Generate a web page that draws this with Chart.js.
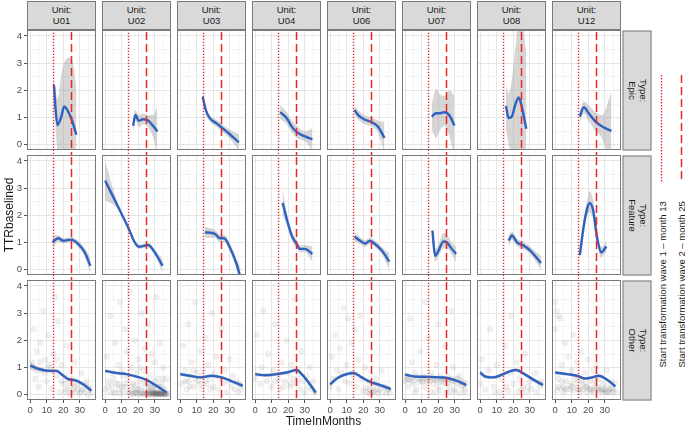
<!DOCTYPE html>
<html>
<head>
<meta charset="utf-8">
<script src="https://cdn.jsdelivr.net/npm/chart.js@4.4.0/dist/chart.umd.min.js"></script>
<style>
  body { margin: 0; background: #fff; }
  #wrap { position: relative; width: 685px; height: 429px; overflow: hidden; font-family: 'Liberation Sans', Arial, sans-serif; }
  #wrap canvas { position: absolute; }
  .strip { position: absolute; box-sizing: border-box; background: #d9d9d9; border: 1px solid #7a7a7a; color: #1a1a1a;
           font-size: 9.5px; line-height: 10.7px; text-align: center; display: flex; align-items: center; justify-content: center; }
  .rot { position: absolute; white-space: nowrap; }
</style>
</head>
<body>
<div id="wrap"></div>
<script>
// facets
const units = ['U01', 'U02', 'U03', 'U04', 'U06', 'U07', 'U08', 'U12'];
const types = ['Epic', 'Feature', 'Other'];
const xTicks = [0, 10, 20, 30];
const xMinor = [5, 15, 25, 35];
const yTicks = [0, 1, 2, 3, 4];
const yMinor = [0.5, 1.5, 2.5, 3.5];
const wave1 = 14.1;   // start transformation wave 1
const wave2 = 25;     // start transformation wave 2

// loess fits, Type: Epic (one list per unit)
const epicX = [
  [14.4, 15.2, 16.5, 18.9, 20.5, 23.5, 25.5, 27.9],
  [16.9, 18.3, 20.3, 22.9, 25.9, 28.9, 31.6],
  [13.6, 15.5, 17.9, 22, 25, 30, 35.5],
  [15.1, 19.1, 22.1, 25.1, 30.1, 34.6],
  [14.7, 17.1, 21.1, 25.2, 29.2, 32.8],
  [16.1, 18.7, 21.1, 23.7, 26.8, 29.8],
  [15.6, 17.2, 19.2, 21.2, 23.3, 24.9, 27.9],
  [14.9, 17.3, 20.3, 24.3, 28.4, 34]
];
const epicY = [
  [2.2, 1.45, 0.73, 1.05, 1.41, 1.16, 0.86, 0.37],
  [0.70, 1.10, 0.88, 0.94, 0.89, 0.70, 0.49],
  [1.77, 1.28, 0.98, 0.79, 0.64, 0.39, 0.09],
  [1.2, 0.98, 0.67, 0.47, 0.31, 0.2],
  [1.28, 1.08, 0.92, 0.83, 0.65, 0.25],
  [1.04, 1.16, 1.16, 1.2, 1.08, 0.71],
  [1.43, 0.98, 1.04, 1.47, 1.74, 1.47, 0.59],
  [1.04, 1.38, 1.16, 0.86, 0.67, 0.51]
];
const epicLo = [
  [1.95, 0.9, -0.2, -0.4, -0.3, -0.6, -0.9, -1.3],
  [0.4, 0.9, 0.65, 0.75, 0.65, 0.3, -0.3],
  [1.62, 1.14, 0.85, 0.66, 0.5, 0.23, -0.2],
  [0.95, 0.76, 0.45, 0.25, 0.12, -0.2],
  [1.14, 0.91, 0.76, 0.66, 0.42, -0.35],
  [0.55, 0.25, 0.55, 0.7, 0.3, -0.4],
  [0.6, 0.0, -0.2, -0.4, -1.2, -1.6, -2.2],
  [0.82, 1.15, 0.88, 0.52, 0.22, -0.9]
];
const epicHi = [
  [2.4, 2.1, 1.7, 2.6, 3.0, 3.2, 3.1, 2.1],
  [1.0, 1.28, 1.1, 1.15, 1.1, 1.1, 1.4],
  [1.9, 1.42, 1.1, 0.92, 0.78, 0.55, 0.4],
  [1.45, 1.2, 0.9, 0.7, 0.5, 0.6],
  [1.42, 1.25, 1.08, 1.0, 0.88, 0.85],
  [1.5, 2.05, 1.85, 1.8, 2.0, 1.8],
  [2.2, 1.9, 2.4, 3.5, 4.6, 4.6, 3.4],
  [1.25, 1.6, 1.45, 1.2, 1.1, 1.95]
];

// Type: Feature
const featX = [
  [13.5, 16.9, 19.9, 24.9, 29, 33, 36.4],
  [0, 7, 13.9, 17.9, 20.5, 24, 26, 30, 34.7],
  [15, 21, 24, 26.5, 30, 33.7, 36.5],
  [16.6, 19.1, 22.1, 25.1, 27, 30.1, 34.6],
  [14.7, 18.1, 21.1, 24.1, 27.1, 31.2, 35.8],
  [16.5, 18.1, 20.2, 23.2, 25.2, 28.2, 30.8],
  [17.2, 19.2, 22.3, 26.3, 30.3, 36.8],
  [14.9, 17.3, 19.3, 20.8, 23, 25.3, 28, 29.9, 31]
];
const featY = [
  [1.01, 1.16, 1.07, 1.11, 0.95, 0.64, 0.15],
  [3.28, 2.42, 1.56, 1.01, 0.85, 0.89, 0.91, 0.64, 0.15],
  [1.38, 1.32, 1.16, 1.16, 0.83, 0.28, -0.28],
  [2.46, 1.87, 1.26, 0.95, 0.77, 0.77, 0.58],
  [1.22, 1.07, 0.97, 1.07, 0.95, 0.71, 0.3],
  [1.44, 0.52, 0.71, 1.04, 1.01, 0.77, 0.58],
  [1.07, 1.26, 1.01, 0.89, 0.71, 0.25],
  [0.54, 1.62, 2.24, 2.46, 2.18, 1.19, 0.64, 0.77, 0.86]
];
const featLo = [
  [0.79, 1.04, 0.97, 1.01, 0.83, 0.49, -0.15],
  [2.55, 2.28, 1.48, 0.92, 0.77, 0.81, 0.83, 0.54, -0.1],
  [1.18, 1.18, 1.02, 1.02, 0.68, 0.1, -0.63],
  [2.0, 1.65, 1.1, 0.8, 0.65, 0.65, 0.3],
  [1.04, 0.95, 0.85, 0.95, 0.83, 0.58, 0.0],
  [1.2, 0.3, 0.5, 0.8, 0.8, 0.55, 0.3],
  [0.85, 1.1, 0.87, 0.75, 0.57, 0.0],
  [0.35, 1.4, 1.95, 2.1, 1.85, 0.95, 0.45, 0.6, 0.65]
];
const featHi = [
  [1.23, 1.28, 1.17, 1.21, 1.07, 0.79, 0.45],
  [4.0, 2.56, 1.64, 1.1, 0.93, 0.97, 0.99, 0.74, 0.4],
  [1.58, 1.46, 1.3, 1.3, 0.98, 0.46, 0.07],
  [2.95, 2.1, 1.42, 1.1, 0.9, 0.9, 0.86],
  [1.4, 1.19, 1.09, 1.19, 1.07, 0.84, 0.6],
  [1.65, 0.75, 0.95, 1.35, 1.3, 1.0, 0.85],
  [1.29, 1.42, 1.15, 1.03, 0.85, 0.5],
  [0.75, 1.85, 2.55, 2.9, 2.55, 1.45, 0.85, 0.95, 1.05]
];

// Type: Other
const otherX = [
  [0, 5.8, 11.8, 15.9, 18.9, 22.9, 27, 32, 37],
  [0, 6.9, 12.9, 18.9, 25, 31, 37.1],
  [0, 5.9, 12, 19, 25, 32, 37.8],
  [0, 6, 13, 19.1, 25.1, 28.1, 33.1, 36.6],
  [0, 5, 11.1, 14.1, 19.1, 24.1, 30.2, 36.6],
  [0, 6, 14.2, 21.1, 26.2, 31.3, 36.9],
  [0, 3.2, 7.8, 13.2, 17.8, 21.8, 26.3, 32.4, 38],
  [0, 7.2, 13.3, 18.3, 22.3, 26.4, 31.4, 36.4]
];
const otherY = [
  [1.07, 0.94, 0.88, 0.88, 0.76, 0.58, 0.54, 0.39, 0.15],
  [0.88, 0.8, 0.76, 0.67, 0.55, 0.33, 0.08],
  [0.76, 0.7, 0.64, 0.7, 0.64, 0.48, 0.33],
  [0.76, 0.72, 0.76, 0.82, 0.91, 0.76, 0.39, 0.08],
  [0.39, 0.64, 0.78, 0.8, 0.64, 0.48, 0.36, 0.21],
  [0.74, 0.67, 0.66, 0.64, 0.61, 0.51, 0.36],
  [0.82, 0.67, 0.64, 0.74, 0.86, 0.91, 0.78, 0.55, 0.36],
  [0.82, 0.76, 0.7, 0.6, 0.64, 0.7, 0.55, 0.31]
];
const otherLo = [
  [0.92, 0.87, 0.82, 0.82, 0.7, 0.52, 0.48, 0.32, 0.03],
  [0.82, 0.76, 0.72, 0.63, 0.51, 0.29, 0.02],
  [0.69, 0.65, 0.59, 0.65, 0.59, 0.42, 0.24],
  [0.68, 0.66, 0.7, 0.76, 0.84, 0.69, 0.31, -0.04],
  [0.29, 0.57, 0.71, 0.73, 0.57, 0.41, 0.29, 0.11],
  [0.69, 0.63, 0.62, 0.6, 0.57, 0.47, 0.3],
  [0.72, 0.6, 0.58, 0.68, 0.8, 0.85, 0.72, 0.48, 0.26],
  [0.76, 0.71, 0.65, 0.55, 0.59, 0.65, 0.5, 0.24]
];
const otherHi = [
  [1.22, 1.01, 0.94, 0.94, 0.82, 0.64, 0.6, 0.46, 0.27],
  [0.94, 0.84, 0.8, 0.71, 0.59, 0.37, 0.14],
  [0.83, 0.75, 0.69, 0.75, 0.69, 0.54, 0.42],
  [0.84, 0.78, 0.82, 0.88, 0.98, 0.83, 0.47, 0.2],
  [0.49, 0.71, 0.85, 0.87, 0.71, 0.55, 0.43, 0.31],
  [0.79, 0.71, 0.7, 0.68, 0.65, 0.55, 0.42],
  [0.92, 0.74, 0.7, 0.8, 0.92, 0.97, 0.84, 0.62, 0.46],
  [0.88, 0.81, 0.75, 0.65, 0.69, 0.75, 0.6, 0.38]
];

// raw observations (Other row), [month, TTR]
const otherPts = [
  [[1,1.2],[2,2.4],[3,0.6],[4,1.6],[5,0.3],[6,1.9],[7,0.9],[8,3.1],[9,1.3],[10,0.5],[11,2.2],[12,1.0],[13,0.2],[14,1.5],[15,3.6],[16,0.7],[17,2.7],[18,0.1],[19,1.1],[20,0.4],[21,0.1],[22,1.8],[23,0.3],[24,0.05],[25,0.6],[26,0.2],[27,1.2],[28,0.1],[29,0.4],[30,0.05],[31,0.8],[32,0.2],[33,0.1],[34,0.5],[35,0.0],[36,0.3],[37,0.1],[22,0.2],[27,0.3],[31,0.15],[19,0.5],[25,0.1],
   [2,1.0],[4,0.9],[6,1.2],[9,0.8],[11,1.1],[13,0.9],[16,1.3],[21,0.7],[23,0.5],[26,0.4],[29,0.2],[33,0.35]],
  [[14,0.1],[15,0.05],[16,0.15],[17,0.02],[18,0.1],[19,0.05],[20,0.2],[21,0.03],[22,0.1],[23,0.05],[24,0.12],[25,0.02],[26,0.08],[27,0.04],[28,0.1],[29,0.02],[30,0.06],[31,0.03],[32,0.08],[33,0.02],[34,0.05],[35,0.03],[36,0.06],[37,0.02],[38,0.04],
   [24,0.03],[26,0.15],[28,0.05],[29,0.12],[30,0.02],[31,0.1],[32,0.04],[33,0.07],[34,0.02],[35,0.1],[36,0.03],[37,0.08],[27,0.02],[30,0.1],[32,0.01],[34,0.12],[36,0.01],[33,0.04],[31,0.05],[29,0.07],
   [25.5,0.05],[26.5,0.02],[27.5,0.08],[28.5,0.03],[29.5,0.05],[30.5,0.02],[31.5,0.07],[32.5,0.03],[33.5,0.05],[34.5,0.02],[35.5,0.06],[36.5,0.03],[20.5,0.06],[22.5,0.04],[18.5,0.08],[16.5,0.05],
   [28,0.25],[32,0.3],[35,0.22],[30,0.35],[26,0.3],[22,0.28],[18,0.35],[12,0.3],[8,0.4],[4,0.35],
   [0,0.2],[1,1.4],[2,0.5],[3,2.9],[4,0.8],[5,0.1],[6,1.9],[7,0.4],[8,1.1],[9,3.4],[10,0.3],[11,0.7],[12,2.4],[13,1.6],[14,0.6],[15,3.8],[16,1.0],[17,0.4],[18,2.0],[19,0.8],[20,1.3],[21,0.5],[22,3.0],[23,0.9],[24,1.7],[25,0.4],[26,2.6],[27,0.7],[28,1.5],[29,0.3],[30,1.2],[31,3.6],[32,0.6],[33,1.9],[34,0.4],[35,1.0],[36,0.2],[37,0.6],
   [2,0.3],[5,0.6],[8,0.2],[10,0.9],[12,0.4],[16,0.3],[19,0.2],[21,1.0],[24,0.5],[27,0.3],[30,0.5],[33,0.3],[35,0.6],[6,0.05],[11,0.1],[3,0.1],[9,0.05]],
  [[1,0.4],[2,1.8],[3,0.9],[4,0.2],[5,2.6],[6,0.7],[7,1.2],[8,0.3],[9,3.4],[10,0.8],[11,0.5],[12,1.6],[13,0.2],[14,0.9],[15,2.1],[16,0.4],[17,1.1],[18,0.6],[19,3.0],[20,0.3],[21,0.8],[22,1.4],[23,0.2],[24,0.6],[25,2.4],[26,0.4],[27,0.9],[28,0.1],[29,0.5],[30,1.3],[31,0.3],[32,0.7],[33,0.2],[34,0.5],[35,0.1],[36,0.4],[37,0.2],[3,0.5],[6,0.3],[9,0.6],[12,0.4],[15,0.5],[18,0.2],[8,0.9],[13,0.7],[5,0.5]],
  [[0,0.6],[1,2.2],[3,0.4],[4,1.0],[5,3.1],[7,0.5],[8,1.5],[10,0.3],[11,0.9],[12,2.6],[14,0.6],[15,0.2],[16,1.2],[18,0.5],[19,2.0],[20,0.8],[21,0.3],[22,1.1],[23,0.6],[24,3.5],[25,0.4],[26,0.9],[27,0.2],[28,1.6],[29,0.5],[30,0.1],[31,0.7],[32,0.3],[33,1.0],[34,0.2],[35,0.5],[36,0.1],[12,0.5],[17,0.3],[22,0.4],[26,0.6],[9,0.7]],
  [[0,0.3],[1,1.4],[2,0.6],[3,2.2],[4,0.9],[5,0.2],[6,1.7],[7,0.8],[8,3.2],[9,0.5],[10,1.1],[11,2.8],[12,0.4],[13,1.9],[14,0.7],[15,2.4],[16,0.3],[17,1.3],[18,2.9],[19,0.6],[20,0.15],[21,1.0],[22,0.1],[23,0.5],[24,0.2],[25,0.08],[26,0.3],[27,0.1],[28,0.6],[29,0.05],[30,0.2],[31,0.9],[32,0.1],[33,0.3],[34,0.05],[35,0.2],[36,0.1],[22,0.25],[24,0.05],[26,0.12],[28,0.2]],
  [[0,0.5],[1,0.7],[2,0.3],[3,0.6],[4,1.2],[5,0.4],[6,0.8],[7,0.2],[8,0.6],[9,1.6],[10,0.5],[11,0.7],[12,0.3],[13,0.6],[14,2.1],[15,0.5],[16,0.8],[17,0.4],[18,0.6],[19,1.1],[20,0.3],[21,0.7],[22,0.5],[23,0.6],[24,1.8],[25,0.4],[26,0.7],[27,0.3],[28,0.6],[29,1.0],[30,0.2],[31,0.6],[32,0.4],[33,0.7],[34,0.3],[35,0.5],[36,0.2],[37,0.4],
   [2,0.55],[5,0.65],[8,0.45],[11,0.5],[14,0.6],[17,0.55],[20,0.6],[23,0.45],[26,0.55],[29,0.5],[32,0.6],[35,0.35],[3,2.8],[12,3.4],[20,2.6],[28,3.1],[6,0.1],[15,0.1],[25,0.1],[33,0.05],
   [1,0.6],[4,0.5],[7,0.65],[10,0.6],[13,0.5],[16,0.65],[19,0.5],[22,0.6],[25,0.55],[28,0.5],[31,0.45],[34,0.5],[18,0.1],[21,0.15],[27,0.1],[30,0.12],[36,0.08]],
  [[0,0.4],[1,1.3],[3,0.2],[5,0.9],[6,2.4],[8,0.3],[10,1.1],[12,0.1],[13,0.6],[15,1.8],[16,0.3],[18,0.8],[19,2.9],[20,0.4],[22,1.2],[23,0.1],[24,0.6],[26,0.3],[27,1.5],[28,0.1],[30,0.5],[31,0.2],[33,0.8],[34,0.1],[36,0.3],[37,0.5],[9,0.1],[17,0.15],[25,0.2],[29,0.3]],
  [[0,2.4],[1,3.1],[2,0.6],[3,2.8],[4,1.1],[5,0.3],[6,1.9],[7,0.5],[8,1.4],[9,0.2],[10,0.9],[11,2.2],[12,0.4],[13,1.2],[14,0.6],[15,0.2],[16,1.6],[17,0.4],[18,0.8],[19,0.1],[20,1.3],[21,0.5],[22,0.2],[23,0.9],[24,0.3],[25,1.1],[26,0.2],[27,0.6],[28,0.1],[29,0.4],[30,0.2],[31,0.9],[32,0.3],[33,0.1],[34,0.5],[35,0.2],[36,0.4],[37,0.1],
   [2,0.3],[6,0.2],[10,0.3],[14,0.2],[18,0.3],[22,0.15],[26,0.3],[30,0.1],[34,0.25],[20,0.25],[28,0.2],[32,0.1],[4,0.5],[12,0.6],[16,0.5],[24,0.5],
   [1,0.15],[3,0.25],[5,0.1],[7,0.2],[9,0.35],[11,0.15],[13,0.25],[15,0.1],[17,0.2],[19,0.3],[21,0.2],[23,0.1],[25,0.25],[27,0.15],[29,0.2],[31,0.1],[33,0.2],[35,0.1],[0,3.4],[2,2.9]]
];

const rowData = [
  [epicX, epicY, epicLo, epicHi],
  [featX, featY, featLo, featHi],
  [otherX, otherY, otherLo, otherHi]
];

// layout
const PW = 69, PH = 120;
const colLeft = c => 27 + 75 * c;
const rowTop = [30, 155, 280];
const FONT = "'Liberation Sans', Arial, sans-serif";
const RED = 'rgb(232,40,40)';
const BLUE = '#2f62c0';
const GRID = '#e6e6e6';
const GRID_MINOR = '#f3f3f3';

Chart.defaults.font.family = FONT;

const wrap = document.getElementById('wrap');

const panelBorder = {
  id: 'panelBorder',
  afterDraw(chart) {
    const { ctx, chartArea: a } = chart;
    ctx.save();
    ctx.strokeStyle = '#7a7a7a';
    ctx.lineWidth = 1;
    ctx.strokeRect(a.left + 0.5, a.top + 0.5, a.right - a.left - 1, a.bottom - a.top - 1);
    ctx.restore();
  }
};

const toXY = (xs, ys) => xs.map((x, i) => ({ x: x, y: ys[i] }));
const vline = x => [{ x: x, y: -1 }, { x: x, y: 5 }];
const noPad = s => { s.paddingLeft = 0; s.paddingRight = 0; s.paddingTop = 0; s.paddingBottom = 0; };

function makePanel(r, c) {
  const [X, Y, Lo, Hi] = rowData[r];
  const pts = r === 2 ? otherPts[c] : [];
  const left = c === 0 ? 0 : colLeft(c);
  const w = c === 0 ? colLeft(0) + PW : PW;
  const h = r === 2 ? PH + 16 : PH + 5;
  const cv = document.createElement('canvas');
  cv.width = w; cv.height = h;
  cv.style.left = left + 'px'; cv.style.top = rowTop[r] + 'px';
  cv.style.width = w + 'px'; cv.style.height = h + 'px';
  wrap.appendChild(cv);

  const lineClip = { left: 0, top: 0, right: 0, bottom: r < 2 ? 5 : 0 };

  new Chart(cv, {
    type: 'line',
    data: {
      datasets: [
        { data: vline(wave1), borderColor: RED, borderWidth: 1.3, borderDash: [1.4, 1.6], pointRadius: 0, clip: lineClip, order: 0 },
        { data: vline(wave2), borderColor: RED, borderWidth: 1.5, borderDash: [8, 4], pointRadius: 0, clip: lineClip, order: 0 },
        { data: toXY(X[c], Y[c]), borderColor: BLUE, borderWidth: 2.4, pointRadius: 0, cubicInterpolationMode: 'monotone', order: 1 },
        { data: toXY(X[c], Lo[c]), borderWidth: 0, pointRadius: 0, cubicInterpolationMode: 'monotone', fill: false, order: 2 },
        { data: toXY(X[c], Hi[c]), borderWidth: 0, pointRadius: 0, cubicInterpolationMode: 'monotone', fill: '-1',
          backgroundColor: 'rgba(153,153,153,0.4)', order: 3 },
        { data: pts.map(p => ({ x: p[0], y: p[1] })), showLine: false, pointRadius: 2.8,
          pointBackgroundColor: 'rgba(60,60,60,0.07)', pointBorderColor: 'rgba(60,60,60,0.05)', pointBorderWidth: 0.8, order: 4 }
      ]
    },
    options: {
      responsive: false,
      animation: false,
      events: [],
      layout: { autoPadding: false, padding: { left: 0, right: 0, top: 0, bottom: r < 2 ? 5 : 0 } },
      plugins: { legend: { display: false }, tooltip: { enabled: false } },
      scales: {
        x: {
          type: 'linear', min: -1.9, max: 39.8,
          afterBuildTicks: s => { s.ticks = xTicks.concat(xMinor).sort((a, b) => a - b).map(v => ({ value: v })); },
          afterFit: s => { s.height = r === 2 ? 16 : 0; noPad(s); },
          border: { display: false },
          grid: {
            color: ctx => (ctx.tick && xTicks.includes(ctx.tick.value)) ? GRID : GRID_MINOR,
            lineWidth: 1,
            drawTicks: r === 2, tickLength: 3,
            tickColor: ctx => (ctx.tick && xTicks.includes(ctx.tick.value)) ? '#555' : 'rgba(0,0,0,0)'
          },
          ticks: {
            display: r === 2, autoSkip: false, maxRotation: 0, padding: 2,
            color: '#4d4d4d', font: { size: 9.5 },
            callback: v => xTicks.includes(v) ? v : ''
          }
        },
        y: {
          type: 'linear', min: -0.19, max: 4.22,
          afterBuildTicks: s => { s.ticks = yTicks.concat(yMinor).sort((a, b) => a - b).map(v => ({ value: v })); },
          afterFit: s => { s.width = c === 0 ? colLeft(0) : 0; noPad(s); },
          border: { display: false },
          grid: {
            color: ctx => (ctx.tick && yTicks.includes(ctx.tick.value)) ? GRID : GRID_MINOR,
            lineWidth: 1,
            drawTicks: c === 0, tickLength: 3,
            tickColor: ctx => (ctx.tick && yTicks.includes(ctx.tick.value)) ? '#555' : 'rgba(0,0,0,0)'
          },
          ticks: {
            display: c === 0, autoSkip: false, padding: 2,
            color: '#4d4d4d', font: { size: 9.5 },
            callback: v => yTicks.includes(v) ? v : ''
          }
        }
      }
    },
    plugins: [panelBorder]
  });
}

for (let r = 0; r < types.length; r++) {
  for (let c = 0; c < units.length; c++) makePanel(r, c);
}

// strips
units.forEach((u, c) => {
  const d = document.createElement('div');
  d.className = 'strip';
  d.style.left = colLeft(c) + 'px'; d.style.top = '1px';
  d.style.width = PW + 'px'; d.style.height = '29px';
  d.innerHTML = '<div>Unit:<br>' + u + '</div>';
  wrap.appendChild(d);
});
types.forEach((t, r) => {
  const d = document.createElement('div');
  d.className = 'strip';
  const cx = 622 + 14.5, cy = rowTop[r] + PH / 2;
  d.style.left = (cx - PH / 2) + 'px'; d.style.top = (cy - 14.5) + 'px';
  d.style.width = PH + 'px'; d.style.height = '29px';
  d.style.transform = 'rotate(90deg)';
  d.innerHTML = '<div>Type:<br>' + t + '</div>';
  wrap.appendChild(d);
});

// axis titles
function rotText(txt, cx, cy, w, size, deg, align) {
  const d = document.createElement('div');
  d.className = 'rot';
  const hh = Math.round(size * 1.2);
  d.style.left = (cx - w / 2) + 'px'; d.style.top = (cy - hh / 2) + 'px';
  d.style.width = w + 'px'; d.style.height = hh + 'px';
  d.style.lineHeight = hh + 'px';
  d.style.fontSize = size + 'px';
  d.style.textAlign = align;
  d.style.color = '#1a1a1a';
  if (deg) d.style.transform = 'rotate(' + deg + 'deg)';
  d.textContent = txt;
  wrap.appendChild(d);
}
rotText('TimeInMonths', 323.5, 421, 200, 12, 0, 'center');
rotText('TTRbaselined', 8.8, 215, 160, 12, -90, 'center');

// legend
rotText('Start transformation wave 1 \u2013 month 13', 662, 267, 200, 9.5, -90, 'left');
rotText('Start transformation wave 2 \u2013 month 25', 681, 267, 200, 9.5, -90, 'left');
const svgNS = 'http://www.w3.org/2000/svg';
const svg = document.createElementNS(svgNS, 'svg');
svg.setAttribute('width', 685); svg.setAttribute('height', 429);
svg.style.position = 'absolute'; svg.style.left = '0'; svg.style.top = '0';
[[661.5, '1.4 1.6', 1.3], [681.5, '8 4', 1.5]].forEach(k => {
  const l = document.createElementNS(svgNS, 'line');
  l.setAttribute('x1', k[0]); l.setAttribute('x2', k[0]);
  l.setAttribute('y1', 75); l.setAttribute('y2', 183);
  l.setAttribute('stroke', RED); l.setAttribute('stroke-width', k[2]);
  l.setAttribute('stroke-dasharray', k[1]);
  svg.appendChild(l);
});
wrap.appendChild(svg);
</script>
</body>
</html>
